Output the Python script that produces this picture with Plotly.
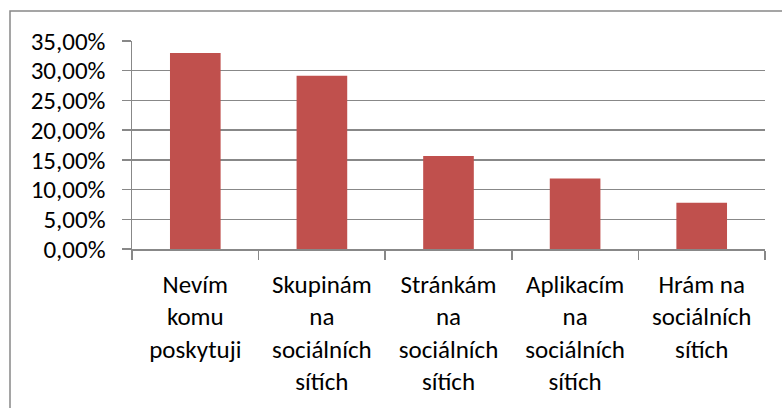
import plotly.graph_objects as go

categories = ["Nevím<br>komu<br>poskytuji",
              "Skupinám<br>na<br>sociálních<br>sítích",
              "Stránkám<br>na<br>sociálních<br>sítích",
              "Aplikacím<br>na<br>sociálních<br>sítích",
              "Hrám na<br>sociálních<br>sítích"]
values = [32.97, 29.15, 15.65, 11.87, 7.77]
tick_vals = [0, 5, 10, 15, 20, 25, 30, 35]
tick_text = ["0,00%", "5,00%", "10,00%", "15,00%", "20,00%", "25,00%", "30,00%", "35,00%"]

FONT = "Carlito, Liberation Sans Narrow, Arial Narrow, sans-serif"

fig = go.Figure(go.Bar(x=categories, y=values, marker=dict(color="#C0504D", line=dict(width=0)),
                       width=0.4, hoverinfo="skip"))

W, H = 782, 408
L, R, T, B = 132, 17, 41, 159
pw, ph = W - L - R, H - T - B

fig.update_layout(
    width=W, height=H,
    margin=dict(l=L, r=R, t=T, b=B, pad=0, autoexpand=False),
    paper_bgcolor="white", plot_bgcolor="white",
    font=dict(family=FONT, size=24, color="black"),
    showlegend=False,
    bargap=0.6,
    xaxis=dict(showline=True, linecolor="#888888", linewidth=1.5,
               ticks="outside", tickson="boundaries", ticklen=9, tickcolor="#888888", tickwidth=1.5,
               showgrid=False, tickfont=dict(family=FONT, size=25, color="black"),
               ticklabelstandoff=12, automargin=False,
               fixedrange=True),
    yaxis=dict(range=[0, 35], tickvals=tick_vals, ticktext=tick_text,
               showline=True, linecolor="#888888", linewidth=1.5,
               ticks="outside", ticklen=9, tickcolor="#888888", tickwidth=1.5,
               showgrid=True, gridcolor="#888888", gridwidth=1.5,
               zeroline=False, ticklabelstandoff=11, automargin=False,
               tickfont=dict(family=FONT, size=25, color="black"),
               fixedrange=True),
    shapes=[dict(type="rect", xref="paper", yref="paper",
                 x0=(10 - L) / pw, x1=(W + 10 - L) / pw,
                 y0=(H - B - (H + 10)) / ph, y1=(H - B - 11) / ph,
                 line=dict(color="#888888", width=1.5), fillcolor="rgba(0,0,0,0)", layer="below")],
)

fig.write_html("out.html", config={"displayModeBar": False, "staticPlot": True},
               post_script="document.body.style.margin='0';document.body.style.padding='0';")
